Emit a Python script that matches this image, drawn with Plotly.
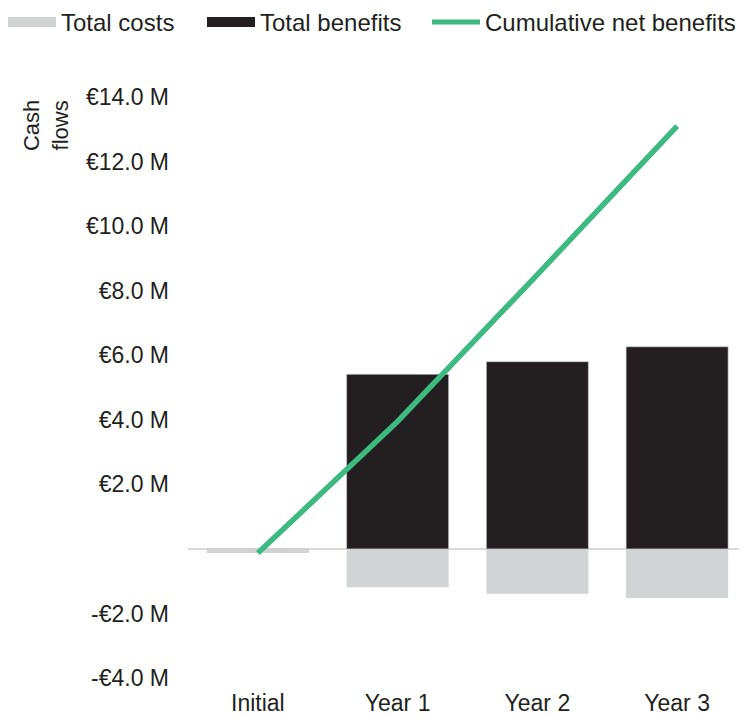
import plotly.graph_objects as go

categories = ["Initial", "Year 1", "Year 2", "Year 3"]
total_costs = [-0.13, -1.19, -1.39, -1.52]
total_benefits = [0.0, 5.41, 5.80, 6.26]
cumulative_net = [-0.13, 3.95, 8.50, 13.10]
tick_vals = [-4, -2, 0, 2, 4, 6, 8, 10, 12, 14]
tick_text = ["-€4.0 M", "-€2.0 M", "", "€2.0 M", "€4.0 M", "€6.0 M", "€8.0 M",
             "€10.0 M", "€12.0 M", "€14.0 M"]

GRAY = "#d1d3d4"
BLACK = "#231f20"
GREEN = "#3dba80"
FONT = "Liberation Sans, Arial, sans-serif"
TXT = "#231f20"

# page has an 8px body margin; compensate so the figure fills the window
W, H = 739, 709
ML, MR, MT, MB = 180, 0, 89, 39
PW, PH = W - ML - MR, H - MT - MB

fig = go.Figure()
fig.add_trace(go.Bar(x=categories, y=total_costs, name="Total costs",
                     marker=dict(color=GRAY, line=dict(width=0)), width=0.73,
                     showlegend=False))
fig.add_trace(go.Bar(x=categories, y=total_benefits, name="Total benefits",
                     marker=dict(color=BLACK, line=dict(color="#cfcfcf", width=0.6)),
                     width=0.73, showlegend=False))
fig.add_trace(go.Scatter(x=categories, y=cumulative_net, mode="lines",
                         name="Cumulative net benefits",
                         line=dict(color=GREEN, width=5.5), showlegend=False))
# legend entries (wide swatches)
for nm, col, w, lw in [("Total costs", GRAY, 11, 136), ("Total benefits", BLACK, 11, 162),
                       ("Cumulative net benefits", GREEN, 5, 255)]:
    fig.add_trace(go.Scatter(x=[None], y=[None], mode="lines", name=nm,
                             line=dict(color=col, width=w), showlegend=True,
                             legendwidth=lw))

fig.update_layout(
    width=W, height=H,
    margin=dict(l=ML, r=MR, t=MT, b=MB, autoexpand=False),
    paper_bgcolor="white", plot_bgcolor="white",
    barmode="relative",
    font=dict(family=FONT, size=20, color=TXT),
    legend=dict(orientation="h", xref="paper", x=(-ML - 5) / PW, xanchor="left",
                yref="paper", y=1 + (MT + 8) / PH, yanchor="top",
                font=dict(size=24, color=TXT), itemwidth=48,
                traceorder="normal", bgcolor="rgba(0,0,0,0)"),
    xaxis=dict(showgrid=False, showline=False, zeroline=False, ticks="",
               range=[-0.5, 3.5], ticklabelstandoff=9,
               tickfont=dict(size=23, color=TXT)),
    yaxis=dict(showgrid=False, showline=False, zeroline=True,
               zerolinecolor="#d9d9d9", zerolinewidth=2,
               range=[-4, 14], tickvals=tick_vals, ticktext=tick_text,
               ticks="", ticklabelstandoff=18,
               tickfont=dict(size=23, color=TXT)),
    annotations=[dict(text="Cash<br>flows", textangle=-90, xref="paper", yref="paper",
                      x=-0.254, y=0.950, xanchor="center", yanchor="middle",
                      showarrow=False, font=dict(size=22, color=TXT), align="center")],
)

fig.write_html("out.html")
